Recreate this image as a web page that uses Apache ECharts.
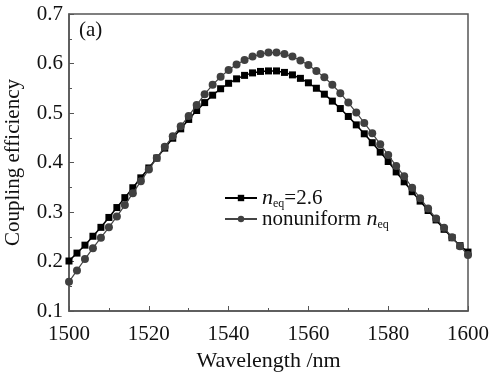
<!DOCTYPE html>
<html>
<head>
<meta charset="utf-8">
<script src="https://cdn.jsdelivr.net/npm/echarts@6/dist/echarts.min.js"></script>
<style>
  html, body { margin: 0; padding: 0; background: #fff; }
  #chart { width: 495px; height: 372px; }
</style>
</head>
<body>
<div id="chart"></div>
<script>
// wavelength (nm), one point every 2 nm
const wavelengths = [];
for (let w = 1500; w <= 1600; w += 2) wavelengths.push(w);

// n_eq = 2.6 (squares)
const uniformEff = [
  0.201, 0.217, 0.233, 0.251, 0.269, 0.289, 0.309, 0.329, 0.349, 0.369,
  0.389, 0.409, 0.429, 0.449, 0.468, 0.487, 0.505, 0.521, 0.536, 0.549,
  0.560, 0.569, 0.576, 0.581, 0.584, 0.585, 0.585, 0.582, 0.577, 0.570,
  0.561, 0.550, 0.538, 0.524, 0.509, 0.493, 0.476, 0.458, 0.440, 0.421,
  0.402, 0.381, 0.361, 0.341, 0.322, 0.303, 0.284, 0.265, 0.248, 0.232,
  0.219
];

// nonuniform n_eq (circles)
const nonuniformEff = [
  0.159, 0.182, 0.205, 0.227, 0.248, 0.269, 0.291, 0.314, 0.338, 0.362,
  0.386, 0.409, 0.432, 0.453, 0.473, 0.494, 0.516, 0.538, 0.557, 0.573,
  0.587, 0.598, 0.607, 0.614, 0.619, 0.622, 0.622, 0.619, 0.614, 0.606,
  0.597, 0.585, 0.572, 0.557, 0.540, 0.521, 0.501, 0.480, 0.459, 0.437,
  0.415, 0.393, 0.372, 0.349, 0.328, 0.307, 0.287, 0.268, 0.249, 0.231,
  0.213
];

const font = "'Liberation Serif', 'DejaVu Serif', serif";

const chart = echarts.init(document.getElementById("chart"));
chart.setOption({
  backgroundColor: "#fff",
  animation: false,
  title: {
    text: "(a)",
    left: 74,
    top: 15,
    textStyle: { fontFamily: font, fontSize: 21, fontWeight: "normal", color: "#111" },
  },
  grid: {
    left: 69,
    right: 27,
    top: 14,
    bottom: 61,
    outerBoundsMode: "none",
    show: true,
    borderColor: "#555",
    borderWidth: 1.5,
  },
  legend: {
    left: 219,
    top: 182,
    orient: "vertical",
    itemWidth: 32,
    itemHeight: 8,
    itemGap: -2,
    data: ["uniform", "nonuniform"],
    formatter: (name) =>
      name === "uniform"
        ? "{n|n}{s|eq}{t|=2.6}"
        : "{t|nonuniform }{n|n}{s|eq}",
    textStyle: {
      fontFamily: font,
      color: "#111",
      rich: {
        t: { fontFamily: font, fontSize: 21, color: "#111" },
        n: { fontFamily: font, fontSize: 22, fontStyle: "italic", color: "#111" },
        s: { fontFamily: font, fontSize: 12, color: "#111", padding: [12, 0, 0, 0] },
      },
    },
  },
  xAxis: {
    type: "value",
    min: 1500,
    max: 1600,
    interval: 20,
    name: "Wavelength /nm",
    nameLocation: "middle",
    nameGap: 35,
    nameTextStyle: { fontFamily: font, fontSize: 22, color: "#111" },
    axisLine: { lineStyle: { color: "#555", width: 1.5 } },
    axisTick: { inside: true, length: 5, lineStyle: { color: "#555" } },
    minorTick: { show: true, splitNumber: 2, length: 3, lineStyle: { color: "#555" } },
    splitLine: { show: false },
    axisLabel: {
      fontFamily: font,
      fontSize: 21,
      color: "#111",
      margin: 13,
      formatter: (v) => String(v),
    },
  },
  yAxis: {
    type: "value",
    min: 0.1,
    max: 0.7,
    interval: 0.1,
    name: "Coupling efficiency",
    nameLocation: "middle",
    nameGap: 45,
    nameTextStyle: { fontFamily: font, fontSize: 21, color: "#111" },
    axisLine: { lineStyle: { color: "#555", width: 1.5 } },
    axisTick: { inside: true, length: 5, lineStyle: { color: "#555" } },
    minorTick: { show: true, splitNumber: 2, length: 3, lineStyle: { color: "#555" } },
    splitLine: { show: false },
    axisLabel: {
      fontFamily: font,
      fontSize: 21,
      color: "#111",
      margin: 6,
      formatter: (v) => v.toFixed(1),
    },
  },
  series: [
    {
      name: "uniform",
      type: "line",
      data: wavelengths.map((w, i) => [w, uniformEff[i]]),
      symbol: "rect",
      symbolSize: 7,
      showAllSymbol: true,
      itemStyle: { color: "#000" },
      lineStyle: { color: "#000", width: 1.5 },
      z: 2,
    },
    {
      name: "nonuniform",
      type: "line",
      data: wavelengths.map((w, i) => [w, nonuniformEff[i]]),
      symbol: "circle",
      symbolSize: 8,
      showAllSymbol: true,
      itemStyle: { color: "#404040" },
      lineStyle: { color: "#444", width: 1.2 },
      z: 3,
    },
  ],
});
</script>
</body>
</html>
